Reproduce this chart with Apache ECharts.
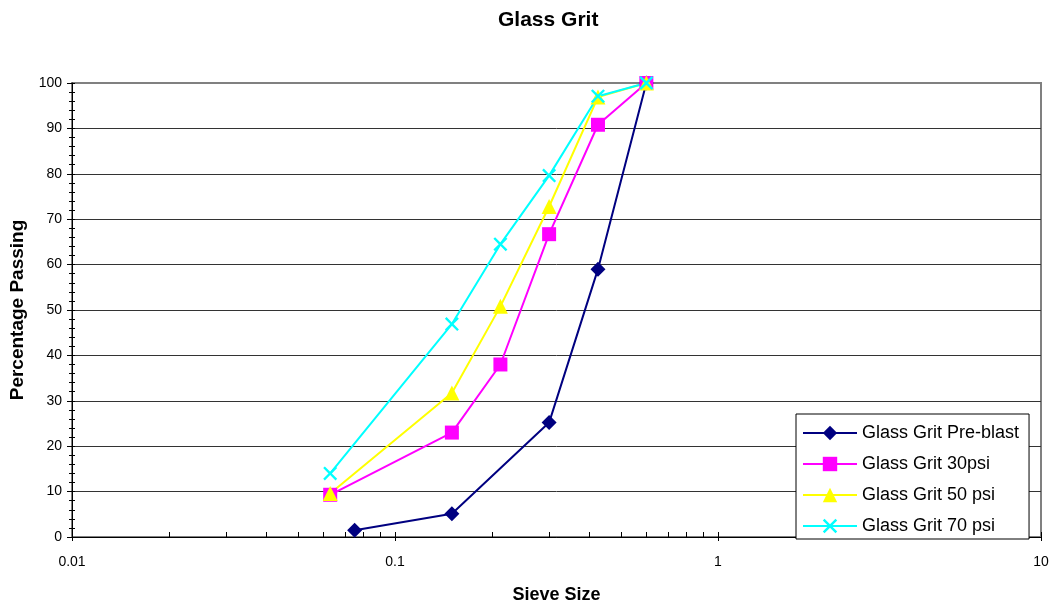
<!DOCTYPE html>
<html>
<head>
<meta charset="utf-8">
<title>Glass Grit</title>
<script src="https://cdn.jsdelivr.net/npm/echarts@6/dist/echarts.min.js"></script>
<style>
  html, body { margin: 0; padding: 0; background: #fff; }
  #chart { width: 1049px; height: 604px; }
</style>
</head>
<body>
<div id="chart"></div>
<script>
// sieve sizes (mm)
const sizesPre = [0.075, 0.15, 0.3, 0.425, 0.6];
const sizes = [0.063, 0.15, 0.212, 0.3, 0.425, 0.6];

// percentage passing
const preBlast = [1.5, 5.1, 25.2, 59, 100];
const psi30 = [9.3, 23, 38, 66.7, 90.8, 100];
const psi50 = [9.6, 31.7, 50.8, 72.8, 96.9, 100];
const psi70 = [14, 46.9, 64.5, 79.6, 97.1, 100];

const seriesNames = ["Glass Grit Pre-blast", "Glass Grit 30psi", "Glass Grit 50 psi", "Glass Grit 70 psi"];
const xMinorTicks = [0.02, 0.03, 0.04, 0.05, 0.06, 0.07, 0.08, 0.09,
                     0.2, 0.3, 0.4, 0.5, 0.6, 0.7, 0.8, 0.9,
                     2, 3, 4, 5, 6, 7, 8, 9];

const font = "Liberation Sans, Arial, sans-serif";
const xMark = "path://M0,1.2 L1.2,0 L5,3.8 L8.8,0 L10,1.2 L6.2,5 L10,8.8 L8.8,10 L5,6.2 L1.2,10 L0,8.8 L3.8,5 Z";

function pairs(xs, ys) {
  return xs.map((x, i) => [x, ys[i]]);
}

function lineSeries(name, data, color, symbol, size) {
  return {
    name: name,
    type: 'line',
    data: data,
    symbol: symbol,
    symbolSize: size,
    showSymbol: true,
    lineStyle: { color: color, width: 2 },
    itemStyle: { color: color },
    emphasis: { disabled: true },
    animation: false
  };
}

let chart = echarts.init(document.getElementById("chart"));
chart.setOption({
  backgroundColor: '#fff',
  textStyle: { fontFamily: font },
  title: {
    text: 'Glass Grit',
    left: 493,
    top: 5,
    textStyle: { fontFamily: font, fontSize: 21, fontWeight: 'bold', color: '#000' }
  },
  grid: {
    left: 72,
    right: 8,
    top: 83,
    bottom: 67,
    outerBoundsMode: 'none',
    containLabel: false,
    show: true,
    borderColor: '#808080',
    borderWidth: 2,
    backgroundColor: '#fff'
  },
  legend: {
    orient: 'vertical',
    left: 796,
    top: 414,
    width: 233,
    padding: [10, 10, 4, 6],
    itemGap: 13,
    itemWidth: 54,
    itemHeight: 18,
    backgroundColor: '#fff',
    borderColor: '#000',
    borderWidth: 1,
    textStyle: { fontFamily: font, fontSize: 18, color: '#000' },
    data: seriesNames
  },
  xAxis: [{
    type: 'log',
    logBase: 10,
    min: 0.01,
    max: 10,
    name: 'Sieve Size',
    nameLocation: 'middle',
    nameGap: 49,
    nameTextStyle: { fontFamily: font, fontSize: 18, fontWeight: 'bold', color: '#000' },
    axisLine: { lineStyle: { color: '#000', width: 1 } },
    axisTick: { show: true, length: 4, lineStyle: { color: '#000' } },
    axisLabel: { fontFamily: font, fontSize: 14, color: '#000', margin: 18 },
    splitLine: { show: false }
  }, {
    type: 'log',
    logBase: 10,
    min: 0.01,
    max: 10,
    position: 'bottom',
    axisLine: { show: false },
    axisTick: { show: true, inside: true, length: 5, lineStyle: { color: '#000' },
                customValues: xMinorTicks.concat([0.01, 0.1, 1, 10]) },
    axisLabel: { show: false },
    splitLine: { show: false }
  }],
  yAxis: [{
    type: 'value',
    min: 0,
    max: 100,
    interval: 10,
    name: 'Percentage Passing',
    nameLocation: 'middle',
    nameGap: 44,
    nameTextStyle: { fontFamily: font, fontSize: 19, fontWeight: 'bold', color: '#000' },
    axisLine: { show: true, lineStyle: { color: '#000', width: 1 } },
    axisTick: { show: true, length: 5, lineStyle: { color: '#000' } },
    minorTick: { show: true, splitNumber: 5, length: 3, lineStyle: { color: '#000' } },
    axisLabel: { fontFamily: font, fontSize: 14, color: '#000', margin: 10 },
    splitLine: { show: true, showMaxLine: false, lineStyle: { color: '#333', width: 1 } }
  }, {
    type: 'value',
    min: 0,
    max: 100,
    interval: 10,
    position: 'left',
    axisLine: { show: false },
    axisTick: { show: true, inside: true, length: 3, lineStyle: { color: '#000' } },
    minorTick: { show: true, splitNumber: 5, length: 3, lineStyle: { color: '#000' } },
    axisLabel: { show: false },
    splitLine: { show: false }
  }],
  series: [
    lineSeries(seriesNames[0], pairs(sizesPre, preBlast), '#000080', 'diamond', 15),
    lineSeries(seriesNames[1], pairs(sizes, psi30), '#FF00FF', 'rect', 14),
    lineSeries(seriesNames[2], pairs(sizes, psi50), '#FFFF00', 'triangle', 15),
    lineSeries(seriesNames[3], pairs(sizes, psi70), '#00FFFF', xMark, 14)
  ]
});
</script>
</body>
</html>
